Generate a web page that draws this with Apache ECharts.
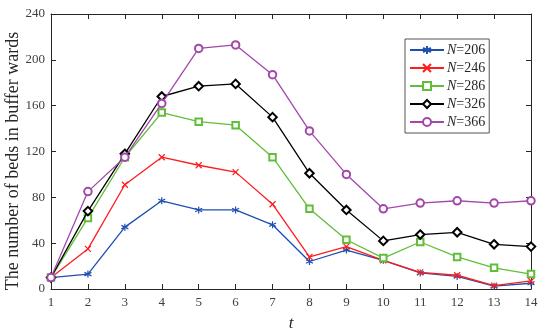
<!DOCTYPE html>
<html><head><meta charset="utf-8">
<script src="https://cdn.jsdelivr.net/npm/echarts@6/dist/echarts.min.js"></script>
<style>html,body{margin:0;padding:0;background:#fff}#c{width:550px;height:331px}</style>
</head><body><div id="c"></div>
<script>
var tValues = [1,2,3,4,5,6,7,8,9,10,11,12,13,14];
var yTicks = [0,40,80,120,160,200,240];
var seriesNames = ['206','246','286','326','366'];
var yTitle = 'The number of beds in buffer wards';
var n206 = [10,13,54,77,69,69,56,24,34,25,14,11,2.5,5];
var n246 = [10,35,91,115,108,102,74,28,37,25,14.5,12,3,7];
var n286 = [10,62,115,154,146,143,115,70,43,27,41,28,18.5,13];
var n326 = [10,68,118,168,177,179,150,101,69,42,47.5,49.5,39,37];
var n366 = [10,85,115,162,210,213,187,138,100,70,75,77,75,77];

var dataSets = [n206,n246,n286,n326,n366];
var colors = ['#1f4fb0','#ff1c1c','#62bd3a','#000000','#a447ab'];
var symbols = [
  'path://M0,-1L0,1M-0.87,-0.5L0.87,0.5M-0.87,0.5L0.87,-0.5',
  'path://M-1,-1L1,1M-1,1L1,-1',
  'emptyRect','emptyDiamond','emptyCircle'];
var sizes = [7,6,6.5,8.5,7.5];
var font = 'Liberation Serif';
var axisColor = '#262626';

var series = dataSets.map(function(d,i){
  return {
    name: 'N=' + seriesNames[i],
    type: 'line',
    data: d.map(function(v,k){return [tValues[k], v];}),
    symbol: symbols[i],
    symbolSize: sizes[i],
    showAllSymbol: true,
    lineStyle: {color: colors[i], width: 1.3},
    itemStyle: {color: colors[i], borderColor: colors[i], borderWidth: 1.2},
    emphasis: {disabled: true},
    z: 2 + i
  };
});

var chart = echarts.init(document.getElementById('c'), null, {renderer:'canvas'});
chart.setOption({
  animation: false,
  backgroundColor: '#fff',
  grid: {left: 51, right: 19, top: 14, bottom: 42, outerBoundsMode: 'none', containLabel: false},
  graphic: [{
    type: 'text', x: 13, y: 161, rotation: Math.PI / 2,
    style: {text: yTitle, fontFamily: font, fontSize: 18, fill: '#262626', align: 'center', verticalAlign: 'middle'}
  }],
  legend: {
    orient: 'vertical', left: 405, top: 39,
    data: series.map(function(s){return s.name;}),
    itemWidth: 34, itemHeight: 10, itemGap: 4,
    padding: [4,4,4,4],
    borderColor: '#555', borderWidth: 1, backgroundColor: '#fff',
    selectedMode: false,
    formatter: function(name){ return '{i|N}{r|' + name.slice(1) + '}'; },
    textStyle: {
      fontFamily: font, fontSize: 14, lineHeight: 14, color: '#262626', padding: [0,0,0,-2],
      rich: {
        i: {fontFamily: font, fontStyle: 'italic', fontSize: 14, lineHeight: 14, color: '#262626'},
        r: {fontFamily: font, fontSize: 14, lineHeight: 14, color: '#262626'}
      }
    }
  },
  xAxis: [{
    type: 'value', min: 1, max: 14, interval: 1,
    name: 't', nameLocation: 'middle', nameGap: 26,
    nameTextStyle: {fontFamily: font, fontStyle: 'italic', fontSize: 17, color: '#262626'},
    axisLine: {show: true, lineStyle: {color: axisColor, width: 1}},
    axisTick: {show: true, inside: true, length: 5, lineStyle: {color: axisColor}},
    axisLabel: {fontFamily: font, fontSize: 13, color: '#404040', margin: 7},
    splitLine: {show: false}
  },{
    type: 'value', min: 1, max: 14, interval: 1, position: 'top',
    axisLine: {show: true, onZero: false, lineStyle: {color: axisColor, width: 1}},
    axisTick: {show: true, inside: true, length: 5, lineStyle: {color: axisColor}},
    axisLabel: {show: false}, splitLine: {show: false}
  }],
  yAxis: [{
    type: 'value', min: 0, max: 240, interval: 40,
    axisLine: {show: true, lineStyle: {color: axisColor, width: 1}},
    axisTick: {show: true, inside: true, length: 5, lineStyle: {color: axisColor}},
    axisLabel: {fontFamily: font, fontSize: 13, color: '#404040', margin: 6},
    splitLine: {show: false}
  },{
    type: 'value', min: 0, max: 240, interval: 40, position: 'right',
    axisLine: {show: true, onZero: false, lineStyle: {color: axisColor, width: 1}},
    axisTick: {show: true, inside: true, length: 5, lineStyle: {color: axisColor}},
    axisLabel: {show: false}, splitLine: {show: false}
  }],
  series: series
});
</script></body></html>
